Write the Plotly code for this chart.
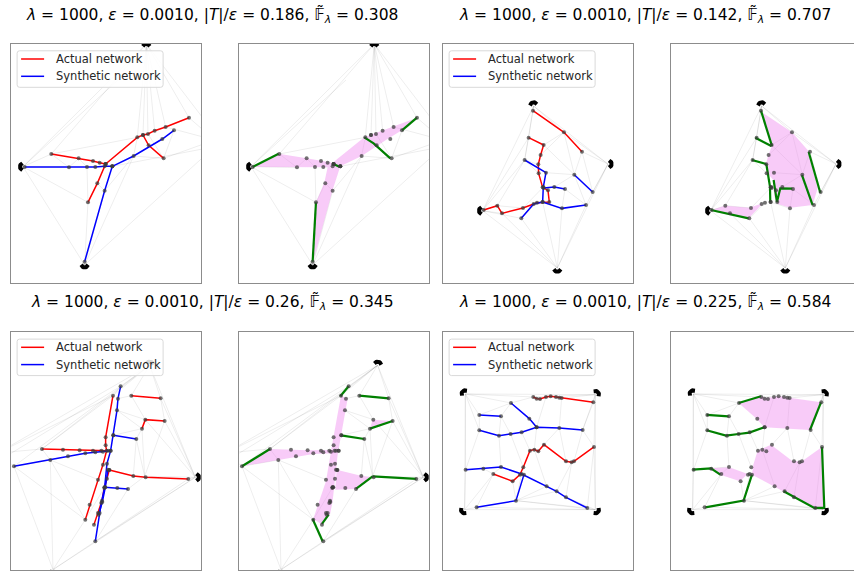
import numpy as np
import plotly.graph_objects as go

W, H = 854, 571

# ---------------- DATA (panel-local units) ----------------
titles = [
    "<i>λ</i> = 1000, <i>ε</i> = 0.0010, |<i>T</i>|/<i>ε</i> = 0.186, 𝔽̃<sub><i>λ</i></sub> = 0.308",
    "<i>λ</i> = 1000, <i>ε</i> = 0.0010, |<i>T</i>|/<i>ε</i> = 0.142, 𝔽̃<sub><i>λ</i></sub> = 0.707",
    "<i>λ</i> = 1000, <i>ε</i> = 0.0010, |<i>T</i>|/<i>ε</i> = 0.26, 𝔽̃<sub><i>λ</i></sub> = 0.345",
    "<i>λ</i> = 1000, <i>ε</i> = 0.0010, |<i>T</i>|/<i>ε</i> = 0.225, 𝔽̃<sub><i>λ</i></sub> = 0.584",
]
legend_names = ["Actual network", "Synthetic network"]
legend_colors = ["#ff0000", "#0000ff"]

# ---- Problem 1 ----
term1 = [(415, 22, 90), (47, 380, 180), (230, 671, 270)]
red1 = [
    [(130, 342), (212, 355), (255, 363), (275, 368), (293, 372)],
    [(293, 372), (268, 430), (240, 487)],
    [(293, 372), (388, 292), (405, 285), (420, 282), (440, 272), (473, 261), (543, 233)],
    [(405, 285), (422, 316), (467, 355)],
]
blue1 = [
    [(50, 381), (183, 382), (237, 381), (262, 381), (290, 379), (313, 379)],
    [(313, 379), (290, 452), (230, 665)],
    [(313, 379), (377, 348), (463, 297), (498, 271)],
]
green1 = [
    [(50, 381), (128, 341)],
    [(240, 487), (230, 665)],
    [(385, 292), (413, 310), (463, 355)],
    [(288, 370), (310, 380)],
    [(498, 271), (543, 233)],
]
pink1 = [
    [(50, 381), (128, 341), (212, 355), (290, 368), (385, 292), (437, 272), (543, 233), (498, 271),
     (458, 295), (377, 348), (313, 379), (290, 450), (232, 662), (240, 487), (265, 428), (275, 382), (183, 382)],
]
edges1 = [
    ((415, 12), (130, 342)), ((415, 12), (45, 380)), ((415, 12), (388, 292)), ((415, 12), (405, 285)),
    ((415, 12), (420, 282)), ((415, 12), (440, 272)), ((415, 12), (473, 261)), ((415, 12), (543, 233)),
    ((415, 12), (620, 280)), ((45, 380), (130, 342)), ((45, 380), (240, 487)), ((45, 380), (230, 675)),
    ((45, 380), (183, 382)), ((230, 675), (240, 487)), ((230, 675), (290, 452)), ((230, 675), (620, 320)),
    ((230, 675), (377, 348)), ((130, 342), (183, 382)), ((183, 382), (212, 355)), ((212, 355), (237, 381)),
    ((237, 381), (240, 487)), ((240, 487), (268, 430)), ((268, 430), (290, 452)), ((290, 452), (377, 348)),
    ((377, 348), (388, 292)), ((377, 348), (467, 355)), ((467, 355), (498, 271)), ((467, 355), (620, 300)),
    ((543, 233), (620, 300)), ((130, 342), (388, 292)), ((313, 379), (620, 320)), ((473, 261), (620, 300)),
    ((420, 282), (467, 355)), ((45, 380), (330, 120)),
]

# ---- Problem 2 ----
term2 = [(281, 198, 100), (504, 372, 0), (128, 512, 180), (352, 684, 270)]
red2 = [
    [(279, 212), (372, 277), (426, 335)],
    [(266, 293), (311, 315), (302, 345), (295, 373), (296, 400), (308, 442), (324, 451), (328, 486),
     (291, 488), (249, 504), (186, 520), (172, 497), (131, 510)],
]
blue2 = [
    [(254, 360), (318, 398), (310, 441), (308, 486)],
    [(311, 444), (343, 441), (375, 447)],
    [(244, 535), (281, 492), (308, 486), (366, 505), (438, 495)],
    [(403, 404), (458, 456)],
]
green2 = [
    [(279, 212), (312, 318)],
    [(262, 293), (310, 318)],
    [(252, 360), (295, 372)],
    [(295, 372), (306, 440), (307, 486)],
    [(317, 420), (327, 486), (337, 445), (373, 446)],
    [(422, 335), (457, 458)],
    [(402, 405), (434, 495)],
    [(129, 510), (242, 535)],
]
pink2 = [
    [(284, 218), (372, 277), (419, 330), (449, 445), (434, 495), (367, 503), (329, 492), (319, 470),
     (316, 420), (299, 400), (294, 372), (302, 343), (312, 318)],
    [(129, 510), (172, 497), (244, 503), (284, 490), (266, 510), (242, 535), (184, 520)],
]
T2, R2, L2, B2 = (281, 198), (504, 372), (128, 512), (352, 684)
edges2 = [
    (T2, (279, 212)), (T2, R2), (T2, (266, 293)), (T2, L2), (T2, (372, 277)), (T2, (254, 360)),
    (R2, (426, 335)), (R2, (372, 277)), (R2, (458, 456)), (R2, B2), (R2, (438, 495)),
    (L2, (172, 497)), (L2, (186, 520)), (L2, (244, 535)), (L2, B2), (L2, (266, 293)), (L2, (254, 360)),
    (B2, (244, 535)), (B2, (186, 520)), (B2, (308, 486)), (B2, (366, 505)), (B2, (438, 495)),
    ((266, 293), (254, 360)), ((254, 360), (172, 497)), ((254, 360), (295, 373)), ((311, 315), (372, 277)),
    ((372, 277), (403, 404)), ((403, 404), (426, 335)), ((403, 404), (438, 495)), ((318, 398), (403, 404)),
    ((343, 441), (403, 404)), ((375, 447), (366, 505)), ((375, 447), (438, 495)), ((291, 488), (244, 535)),
    ((249, 504), (172, 497)), ((296, 400), (254, 360)), ((310, 441), (249, 504)), ((366, 505), (308, 486)),
    ((426, 335), (458, 456)), ((302, 345), (372, 277)), ((311, 315), (403, 404)),
]

# ---- Problem 3 ----
term3 = [(425, 112, 80), (562, 448, 0), (135, 725, 270)]
red3 = [
    [(102, 363), (165, 365), (215, 367), (255, 368), (280, 368), (300, 368)],
    [(315, 203), (293, 328), (293, 352), (296, 368), (285, 410), (270, 455), (245, 530), (232, 575)],
    [(304, 426), (376, 444), (413, 448), (541, 453)],
    [(304, 426), (297, 452), (289, 480), (282, 518), (270, 555), (258, 590)],
    [(370, 203), (458, 211)],
    [(402, 302), (412, 275), (470, 279)],
]
blue3 = [
    [(18, 415), (127, 396), (180, 385), (232, 376), (262, 373), (285, 371), (308, 368)],
    [(338, 175), (330, 212), (327, 247), (316, 322), (308, 368), (297, 407), (290, 478), (280, 525),
     (275, 555), (262, 640)],
    [(316, 322), (385, 333)],
    [(290, 478), (328, 480), (360, 483)],
    [(300, 425), (292, 478), (283, 522), (272, 560)],
]
green3 = [
    [(18, 415), (102, 363)],
    [(313, 205), (338, 175)],
    [(370, 203), (458, 211)],
    [(402, 302), (470, 279)],
    [(315, 322), (385, 333)],
    [(410, 445), (541, 453)],
    [(410, 445), (360, 483)],
    [(230, 573), (260, 640)],
    [(258, 588), (278, 560)],
]
pink3 = [
    [(18, 415), (102, 363), (215, 367), (292, 366), (295, 376), (232, 378), (127, 396)],
    [(315, 203), (335, 212), (305, 380), (300, 430), (290, 520), (282, 560), (258, 590), (232, 572),
     (270, 460), (292, 330)],
    [(302, 425), (375, 443), (408, 447), (360, 483), (298, 485)],
    [(402, 302), (410, 275), (470, 279)],
]
T3, R3, B3, L3 = (425, 112), (562, 448), (135, 725), (-30, 375)
edges3 = [
    (T3, L3), (T3, (18, 415)), (T3, (102, 363)), (T3, (315, 203)), (T3, (338, 175)), (T3, (370, 203)),
    (T3, (458, 211)), (T3, R3), ((458, 211), R3), ((470, 279), R3), ((412, 275), R3), ((541, 453), R3),
    ((410, 445), R3), (B3, R3), (B3, (262, 640)), (B3, (18, 415)), (B3, (127, 396)), (B3, (232, 575)),
    ((262, 640), R3), ((262, 640), (541, 453)), (L3, (18, 415)), (L3, (102, 363)), ((18, 415), (127, 396)),
    ((102, 363), (127, 396)), ((127, 396), (232, 575)), ((127, 396), (270, 455)), ((102, 363), (315, 203)),
    ((315, 203), (338, 175)), ((330, 212), (370, 203)), ((327, 247), (412, 275)), ((327, 247), (402, 302)),
    ((316, 322), (402, 302)), ((385, 333), (402, 302)), ((385, 333), (410, 445)), ((402, 302), (410, 445)),
    ((376, 444), (385, 333)), ((360, 483), (410, 445)), ((360, 483), (262, 640)), ((290, 478), (232, 575)),
    ((370, 203), (412, 275)), ((458, 211), (470, 279)), ((470, 279), (410, 445)), ((18, 415), (232, 575)),
    (L3, (315, 203)), ((-30, 400), (338, 175)),
]

# ---- Problem 4 ----
term4 = [(76, 198, 135), (466, 200, 45), (74, 545, 225), (466, 545, 315)]
red4 = [
    [(280, 207), (290, 212), (300, 213), (318, 207), (332, 205), (348, 207), (358, 209), (365, 210), (460, 223)],
    [(160, 438), (218, 460), (240, 440), (250, 418), (270, 368), (283, 365), (295, 370), (312, 350),
     (378, 400), (395, 403), (402, 400), (462, 357)],
]
blue4 = [
    [(118, 261), (183, 265)],
    [(118, 307), (177, 323), (212, 318), (245, 313), (290, 298), (358, 300), (428, 306)],
    [(213, 225), (268, 272), (290, 298)],
    [(77, 425), (130, 422), (183, 417), (245, 438), (320, 475), (350, 490), (378, 508), (442, 540)],
    [(110, 538), (228, 518), (252, 440)],
]
green4 = [
    [(212, 225), (279, 205)],
    [(116, 261), (182, 265)],
    [(116, 307), (174, 323), (212, 318), (244, 314), (289, 298)],
    [(426, 306), (459, 223)],
    [(74, 425), (129, 421), (157, 440)],
    [(112, 538), (227, 518), (252, 440)],
    [(347, 490), (439, 540), (469, 540), (462, 357)],
]
pink4 = [
    [(212, 225), (279, 205), (294, 210), (334, 205), (369, 210), (459, 223), (426, 306), (354, 302),
     (289, 298), (266, 272)],
    [(269, 368), (309, 350), (374, 400), (402, 400), (462, 357), (469, 540), (439, 540), (347, 490),
     (316, 475), (252, 440), (256, 410)],
    [(129, 421), (184, 418), (239, 438), (216, 460), (157, 440)],
]
TL, TR, BL, BR = (76, 198), (466, 200), (74, 545), (466, 545)
edges4 = [
    (TL, TR), (TL, BL), (BL, BR), (TR, BR), (TL, (118, 261)), (TL, (213, 225)), (TL, (118, 307)),
    (TL, (280, 207)), (TL, (77, 425)), (TR, (365, 210)), (TR, (460, 223)), (TR, (280, 207)),
    (TR, (428, 306)), (TR, (462, 357)), (BL, (110, 538)), (BL, (77, 425)), (BL, (160, 438)),
    (BR, (442, 540)), (BR, (378, 508)), (BR, (462, 357)), (BR, (228, 518)), (BR, (110, 538)),
    ((228, 518), (442, 540)), ((110, 538), (160, 438)), ((77, 425), (118, 307)), ((118, 307), (118, 261)),
    ((118, 261), (213, 225)), ((183, 265), (213, 225)), ((183, 265), (177, 323)), ((177, 323), (183, 417)),
    ((212, 318), (250, 418)), ((245, 313), (270, 368)), ((290, 298), (283, 365)), ((358, 300), (312, 350)),
    ((358, 300), (378, 400)), ((428, 306), (462, 357)), ((428, 306), (402, 400)), ((462, 357), (442, 540)),
    ((395, 403), (378, 508)), ((395, 403), (350, 490)), ((320, 475), (283, 365)), ((218, 460), (228, 518)),
    ((160, 438), (130, 422)), ((183, 417), (160, 438)), ((365, 210), (358, 300)), ((318, 207), (290, 298)),
    ((460, 223), (428, 306)), ((213, 225), (280, 207)), ((183, 265), (212, 318)), ((77, 425), (183, 417)),
    ((245, 438), (228, 518)), ((320, 475), (228, 518)), ((350, 490), (228, 518)),
]

problems = [
    dict(term=term1, red=red1, blue=blue1, green=green1, pink=pink1, edges=edges1),
    dict(term=term2, red=red2, blue=blue2, green=green2, pink=pink2, edges=edges2),
    dict(term=term3, red=red3, blue=blue3, green=green3, pink=pink3, edges=edges3),
    dict(term=term4, red=red4, blue=blue4, green=green4, pink=pink4, edges=edges4),
]

# ---------------- LAYOUT GEOMETRY (pixels) ----------------
col_left = [11.3, 239.3, 443.3, 671.3]
row_top = [44.0, 332.3]
row_bot = [282.7, 570.3]
panel_w = 190.0
xr0 = 10.0
yranges = [(728, 12), (727, 13)]
title_pos = [(212, 15), (644.5, 15), (212, 302), (644.5, 302)]
FRAME = "#8c8c8c"


def join_paths(paths):
    xs, ys = [], []
    for p in paths:
        for (x, y) in p:
            xs.append(x)
            ys.append(y)
        xs.append(None)
        ys.append(None)
    return xs, ys


def join_edges(edges):
    xs, ys = [], []
    for (a, b) in edges:
        xs += [a[0], b[0], None]
        ys += [a[1], b[1], None]
    return xs, ys


def arcs(terms, r=11.0, span=72):
    xs, ys = [], []
    for (cx, cy, ang) in terms:
        t = np.radians(np.linspace(ang - span, ang + span, 15))
        xs += list(cx + r * np.cos(t)) + [None]
        ys += list(cy - r * np.sin(t)) + [None]
    return xs, ys


fig = go.Figure()
layout = {}
shapes = []
annotations = []

for pi, prob in enumerate(problems):
    row = pi // 2
    pair = pi % 2
    for side in range(2):  # 0 = networks, 1 = green/pink
        k = pi * 2 + side + 1
        col = pair * 2 + side
        left = col_left[col]
        right = min(left + panel_w, W)
        xs_name = "x" if k == 1 else f"x{k}"
        ys_name = "y" if k == 1 else f"y{k}"
        xa = "xaxis" if k == 1 else f"xaxis{k}"
        ya = "yaxis" if k == 1 else f"yaxis{k}"
        clipped = right < left + panel_w
        layout[xa] = dict(domain=[left / W, right / W], range=[xr0, xr0 + (right - left) * 3.0],
                          anchor=ys_name, showgrid=False, zeroline=False, showticklabels=False,
                          ticks="", showline=True, mirror=True, linecolor=FRAME, linewidth=1)
        layout[ya] = dict(domain=[1 - row_bot[row] / H, 1 - row_top[row] / H], range=list(yranges[row]),
                          anchor=xs_name, showgrid=False, zeroline=False, showticklabels=False,
                          ticks="", showline=True, mirror=(not clipped), linecolor=FRAME, linewidth=1)

        ex, ey = join_edges(prob["edges"])
        fig.add_trace(go.Scatter(x=ex, y=ey, mode="lines", xaxis=xs_name, yaxis=ys_name,
                                 line=dict(color="rgba(0,0,0,0.10)", width=0.7),
                                 hoverinfo="skip", showlegend=False))
        nodes = prob["red"] + prob["blue"]
        nx, ny = join_paths(nodes)
        if side == 0:
            rx, ry = join_paths(prob["red"])
            fig.add_trace(go.Scatter(x=rx, y=ry, mode="lines", xaxis=xs_name, yaxis=ys_name,
                                     line=dict(color=legend_colors[0], width=1.5), name=legend_names[0],
                                     showlegend=False))
            bx, by = join_paths(prob["blue"])
            fig.add_trace(go.Scatter(x=bx, y=by, mode="lines", xaxis=xs_name, yaxis=ys_name,
                                     line=dict(color=legend_colors[1], width=1.5), name=legend_names[1],
                                     showlegend=False))
        else:
            for poly in prob["pink"]:
                px = [p[0] for p in poly] + [poly[0][0]]
                py = [p[1] for p in poly] + [poly[0][1]]
                fig.add_trace(go.Scatter(x=px, y=py, mode="lines", fill="toself",
                                         fillcolor="rgba(238,130,238,0.42)", line=dict(width=0),
                                         xaxis=xs_name, yaxis=ys_name, hoverinfo="skip", showlegend=False))
            gx, gy = join_paths(prob["green"])
            fig.add_trace(go.Scatter(x=gx, y=gy, mode="lines", xaxis=xs_name, yaxis=ys_name,
                                     line=dict(color="#008000", width=2.2), showlegend=False))
        fig.add_trace(go.Scatter(x=[v for v in nx if v is not None], y=[v for v in ny if v is not None],
                                 mode="markers", xaxis=xs_name, yaxis=ys_name,
                                 marker=dict(color="rgba(60,60,60,0.72)", size=4), showlegend=False,
                                 hoverinfo="skip"))
        ax_, ay_ = arcs(prob["term"])
        fig.add_trace(go.Scatter(x=ax_, y=ay_, mode="lines", xaxis=xs_name, yaxis=ys_name,
                                 line=dict(color="black", width=4), showlegend=False, hoverinfo="skip"))

    # legend box for this problem (matplotlib-style, drawn in paper coords)
    lx0 = col_left[pair * 2] + 5.8
    ly0 = row_top[row] + 6.8
    lx1, ly1 = lx0 + 146, ly0 + 36.5
    r = 2.5
    X = lambda v: v / W
    Y = lambda v: 1 - v / H
    path = (f"M {X(lx0 + r)},{Y(ly0)} L {X(lx1 - r)},{Y(ly0)} Q {X(lx1)},{Y(ly0)} {X(lx1)},{Y(ly0 + r)} "
            f"L {X(lx1)},{Y(ly1 - r)} Q {X(lx1)},{Y(ly1)} {X(lx1 - r)},{Y(ly1)} "
            f"L {X(lx0 + r)},{Y(ly1)} Q {X(lx0)},{Y(ly1)} {X(lx0)},{Y(ly1 - r)} "
            f"L {X(lx0)},{Y(ly0 + r)} Q {X(lx0)},{Y(ly0)} {X(lx0 + r)},{Y(ly0)} Z")
    shapes.append(dict(type="path", xref="paper", yref="paper", path=path,
                       fillcolor="rgba(255,255,255,0.85)", line=dict(color="#d9d9d9", width=1), layer="above"))
    for j, (nm, c) in enumerate(zip(legend_names, legend_colors)):
        yy = ly0 + 8.2 + j * 17.3
        shapes.append(dict(type="line", xref="paper", yref="paper", x0=X(lx0 + 4), x1=X(lx0 + 27),
                           y0=Y(yy), y1=Y(yy), line=dict(color=c, width=1.5), layer="above"))
        annotations.append(dict(text=nm, x=X(lx0 + 36.5), y=Y(yy), xref="paper", yref="paper",
                                xanchor="left", yanchor="middle", showarrow=False,
                                font=dict(family="DejaVu Sans", size=11.5, color="#262626")))

for (t, (tx, ty)) in zip(titles, title_pos):
    annotations.append(dict(text=t, x=tx / W, y=1 - ty / H, xref="paper", yref="paper",
                            xanchor="center", yanchor="middle", showarrow=False,
                            font=dict(family="DejaVu Sans", size=15.5, color="black")))

fig.update_layout(width=W, height=H, margin=dict(l=0, r=0, t=0, b=0), showlegend=False,
                  paper_bgcolor="white", plot_bgcolor="white", annotations=annotations,
                  shapes=shapes, **layout)

fig.write_html("out.html", config={"displayModeBar": False},
               post_script="document.body.style.margin='0px';document.body.style.overflow='hidden';")
